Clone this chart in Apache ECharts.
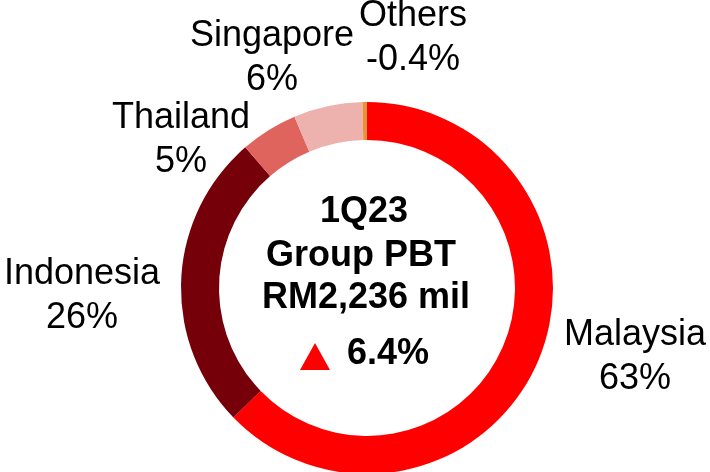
<!DOCTYPE html>
<html>
<head>
<meta charset="utf-8">
<script src="https://cdn.jsdelivr.net/npm/echarts@6/dist/echarts.min.js"></script>
<style>
html,body{margin:0;padding:0;background:#fff;}
#chart{width:710px;height:472px;}
</style>
</head>
<body>
<div id="chart"></div>
<script>
// ---- data ----
const regions = ['Malaysia', 'Indonesia', 'Thailand', 'Singapore', 'Others'];
const shares = [63, 26, 5, 6, -0.4];           // % of Group PBT
const centerLines = ['1Q23', 'Group PBT', 'RM2,236 mil'];
const growthText = '6.4%';

// ---- styles ----
const colors = ['#FF0000', '#75000A', '#E0645E', '#EEB2AE', '#E8923A'];
const labelPos = [[635, 357], [82, 296], [181, 140], [272, 58], [413, 38]];
const FONT = '"Liberation Sans", Arial, Helvetica, sans-serif';

const chart = echarts.init(document.getElementById('chart'), null, {renderer: 'canvas'});

const pieData = regions.map((r, i) => ({
  name: r,
  value: Math.abs(shares[i]),
  share: shares[i],
  itemStyle: {color: colors[i]}
}));

chart.setOption({
  animation: false,
  backgroundColor: '#ffffff',
  series: [{
    type: 'pie',
    center: [367, 288],
    radius: [148, 186],
    startAngle: 90,
    clockwise: true,
    avoidLabelOverlap: false,
    silent: true,
    itemStyle: {borderWidth: 0},
    label: {
      show: true,
      position: 'outside',
      formatter: p => p.name + '\n' + p.data.share + '%',
      fontFamily: FONT,
      fontSize: 36,
      lineHeight: 44,
      color: '#000',
      align: 'center'
    },
    labelLine: {show: false},
    labelLayout: function (params) {
      const p = labelPos[params.dataIndex];
      return {x: p[0], y: p[1], align: 'center', verticalAlign: 'middle'};
    },
    data: pieData
  }],
  graphic: [
    {type: 'text', x: 364, y: 212.5, style: {text: centerLines[0], font: 'bold 36px ' + FONT, fill: '#000', align: 'center', verticalAlign: 'middle'}},
    {type: 'text', x: 361, y: 256, style: {text: centerLines[1], font: 'bold 36px ' + FONT, fill: '#000', align: 'center', verticalAlign: 'middle'}},
    {type: 'text', x: 366, y: 298, style: {text: centerLines[2], font: 'bold 36px ' + FONT, fill: '#000', align: 'center', verticalAlign: 'middle'}},
    {type: 'polygon', shape: {points: [[300, 370], [315, 343], [330, 370]]}, style: {fill: '#FF0000'}},
    {type: 'text', x: 347, y: 354, style: {text: growthText, font: 'bold 36px ' + FONT, fill: '#000', align: 'left', verticalAlign: 'middle'}}
  ]
});
</script>
</body>
</html>
